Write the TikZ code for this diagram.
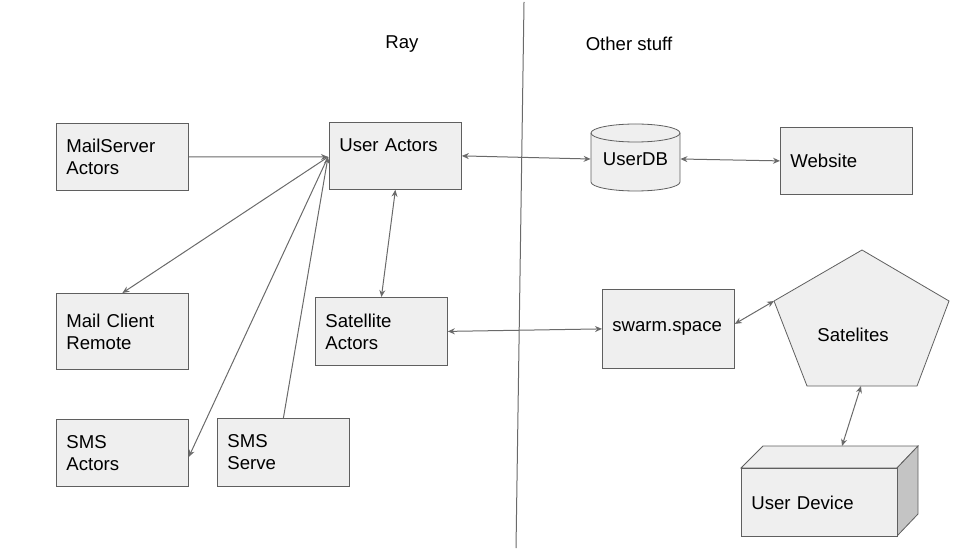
\documentclass[tikz,border=0pt]{standalone}
\usepackage{fontspec}
\setmainfont{Liberation Sans}
\usetikzlibrary{arrows.meta}
\definecolor{boxfill}{HTML}{EFEFEF}
\definecolor{sidefill}{HTML}{C4C4C4}
\definecolor{edge}{HTML}{5F5F5F}
\definecolor{wire}{HTML}{6A6A6A}

\begin{document}
\begin{tikzpicture}[x=0.5pt,y=-0.5pt,
        font=\fontsize{9.3}{11}\selectfont,
        block/.style={draw=edge,fill=boxfill,anchor=north west,align=left,
            text width=56pt,inner xsep=5pt,inner ysep=0pt},
        wire/.style={draw=wire,line width=0.5pt},
        arr/.style={wire,-{Stealth[length=3.5pt,width=3pt]}},
        biarr/.style={wire,{Stealth[length=3.5pt,width=3pt]}-{Stealth[length=3.5pt,width=3pt]}}]
        \useasboundingbox (0,0) rectangle (977,550);
        % dividing line and headings
        \draw [wire] (524,2) -- (516,548);
        \node (ray) at (402,44) {Ray};
        \node (other) at (629,44) {Other stuff};

        % Ray side
        \node [block,minimum height=33.5pt] (mailsrv) at (56,123) {MailServer\\Actors};
        \node [block,minimum height=33.5pt] (useract) at (329,122) {User Actors\\~};
        \node [block,minimum height=38pt] (mailcli) at (56,293) {Mail Client\\Remote};
        \node [block,minimum height=34pt] (satact) at (315,297) {Satellite\\Actors};
        \node [block,minimum height=33.5pt] (smsact) at (56,419) {SMS\\Actors};
        \node [block,minimum height=34pt] (smssrv) at (217,418) {SMS\\Serve};

        % other stuff
        \node [block,minimum height=33.5pt] (website) at (780,127) {Website};
        \node [block,minimum height=39.5pt] (swarm) at (602,289) {swarm.space};

        % UserDB cylinder
        \draw [edge,fill=boxfill] (591,133) -- (591,182) arc (180:0:44.5 and 9)
            -- (680,133) arc (0:-180:44.5 and 9) -- cycle;
        \draw [edge] (591,133) arc (180:0:44.5 and 9);
        \node [minimum width=44.5pt,minimum height=33pt,inner sep=0pt] (userdb) at (635.5,159) {UserDB};

        % Satelites pentagon
        \coordinate (pTop) at (862,250);
        \coordinate (pUR) at (949,301);
        \coordinate (pBR) at (917,386);
        \coordinate (pBL) at (807,386);
        \coordinate (pUL) at (774,301);
        \coordinate (pBot) at (861,386);
        \draw [edge,fill=boxfill] (pTop) -- (pUR) -- (pBR) -- (pBL) -- (pUL) -- cycle;
        \node (sats) at (853,335) {Satelites};

        % User Device box
        \draw [edge,fill=boxfill] (741,468) -- (763,446) -- (918,446) -- (897,468) -- cycle;
        \draw [edge,fill=sidefill] (897,468) -- (918,446) -- (918,514) -- (897,536) -- cycle;
        \node [block,minimum height=34pt,text width=68pt] (device) at (741,468) {User Device};
        \coordinate (devTop) at (842,446);

        % connectors
        \coordinate (hub) at (328,157);
        \draw [arr] (mailsrv.east) -- (hub);
        \draw [arr] (hub) -- (mailcli.north);
        \draw [arr] (hub) -- ([yshift=-2pt]smsact.east);
        \draw [arr] (smssrv.north) -- (hub);
        \draw [biarr] (useract.east) -- (userdb.west);
        \draw [biarr] (userdb.east) -- (website.west);
        \draw [biarr] (useract.south) -- (satact.north);
        \draw [biarr] (satact.east) -- (swarm.west);
        \draw [biarr] ([yshift=2.5pt]swarm.east) -- (pUL);
        \draw [biarr] (pBot) -- (devTop);
    \end{tikzpicture}
\end{document}
